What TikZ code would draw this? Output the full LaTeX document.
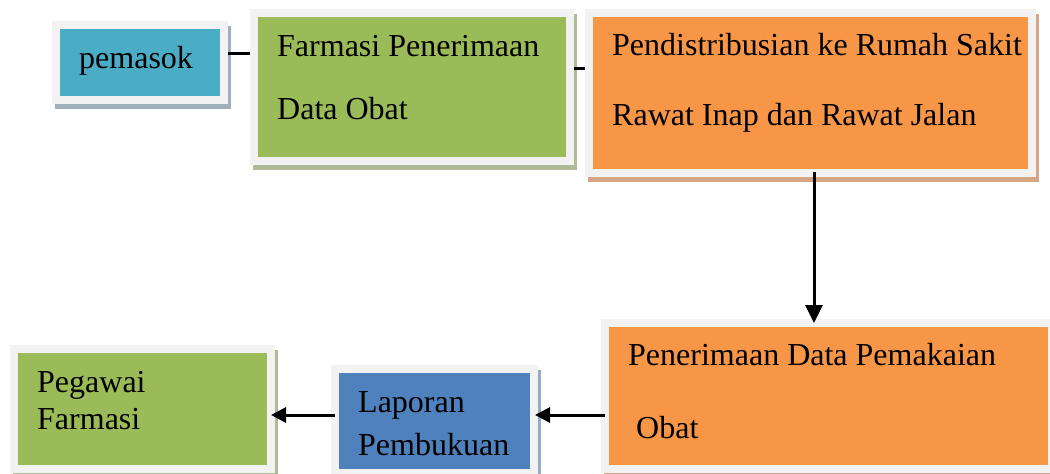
\documentclass[tikz,border=0pt]{standalone}
\usepackage{fontspec}
\setmainfont{Liberation Serif}
\usetikzlibrary{positioning,shadows,arrows.meta}

\definecolor{framegray}{HTML}{F2F2F2}
\definecolor{aquafill}{HTML}{4BACC6}
\definecolor{aquashade}{RGB}{158,176,186}
\definecolor{greenfill}{HTML}{9BBB59}
\definecolor{greenshade}{RGB}{176,186,150}
\definecolor{orangefill}{HTML}{F79646}
\definecolor{orangeshade}{RGB}{212,166,132}
\definecolor{bluefill}{HTML}{4F81BD}
\definecolor{blueshade}{RGB}{155,170,195}

\tikzset{
  box/.style 2 args={draw=framegray, line width=8pt, fill=#1, inner sep=0pt,
    drop shadow={shadow xshift=3pt, shadow yshift=-5pt, fill=#2, draw=#2, opacity=1}},
  txt/.style={anchor=base west, inner sep=0pt, font=\fontsize{32}{38}\selectfont},
  link/.style={line width=3pt},
  flow/.style={link, -{Triangle[width=15pt,length=15pt]}},
  flowbig/.style={link, -{Triangle[width=17pt,length=18pt]}}
}

\begin{document}
\begin{tikzpicture}[x=1pt,y=-1pt]
    \useasboundingbox (0,0) rectangle (1050,474);

    % Pemasok
    \node[box={aquafill}{aquashade}, minimum width=168pt, minimum height=74.5pt] (pemasok) at (140,62.25) {};
    \node[txt] (pemasok-t) at (79,68) {pemasok};

    % Farmasi Penerimaan
    \node[box={greenfill}{greenshade}, minimum width=316pt, minimum height=148pt] (farmasi) at (412,87) {};
    \node[txt] (farmasi-t1) at (277,56) {Farmasi Penerimaan};
    \node[txt] (farmasi-t2) at (277,119) {Data Obat};

    % Pendistribusian
    \node[box={orangefill}{orangeshade}, minimum width=443.5pt, minimum height=160pt] (pendist) at (810.25,93) {};
    \node[txt] (pendist-t1) at (612,55) {Pendistribusian ke Rumah Sakit};
    \node[txt] (pendist-t2) at (612,125) {Rawat Inap dan Rawat Jalan};

    % Penerimaan Data Pemakaian
    \node[box={orangefill}{orangeshade}, minimum width=447.5pt, minimum height=146pt] (pakai) at (828.25,396) {};
    \node[txt] (pakai-t1) at (628,365) {Penerimaan Data Pemakaian};
    \node[txt] (pakai-t2) at (636,438) {Obat};

    % Laporan Pembukuan
    \node[box={bluefill}{blueshade}, minimum width=199.5pt, minimum height=104pt] (laporan) at (434.25,421) {};
    \node[txt] (laporan-t1) at (358,412) {Laporan};
    \node[txt] (laporan-t2) at (358,455) {Pembukuan};

    % Pegawai Farmasi
    \node[box={greenfill}{greenshade}, minimum width=256.5pt, minimum height=120pt] (pegawai) at (142.25,409) {};
    \node[txt] (pegawai-t1) at (37,392) {Pegawai};
    \node[txt] (pegawai-t2) at (37,429) {Farmasi};

    % Connectors
    \coordinate (c1) at ([yshift=9.25pt]pemasok.east);
    \draw[link] (c1) -- (c1 -| farmasi.west);
    \coordinate (c2) at ([yshift=19pt]farmasi.east);
    \draw[link] (c2) -- (c2 -| pendist.west);
    \coordinate (c3) at ([xshift=3.75pt,yshift=5pt]pendist.south);
    \draw[flowbig, shorten >=-4pt] (c3) -- (c3 |- pakai.north);
    \coordinate (c4) at ([xshift=4pt,yshift=-19pt]pakai.west);
    \draw[flow, shorten >=-3pt] (c4) -- (c4 -| laporan.east);
    \coordinate (c5) at ([xshift=4pt,yshift=6pt]laporan.west);
    \draw[flow, shorten >=-3.5pt] (c5) -- (c5 -| pegawai.east);
\end{tikzpicture}
\end{document}
